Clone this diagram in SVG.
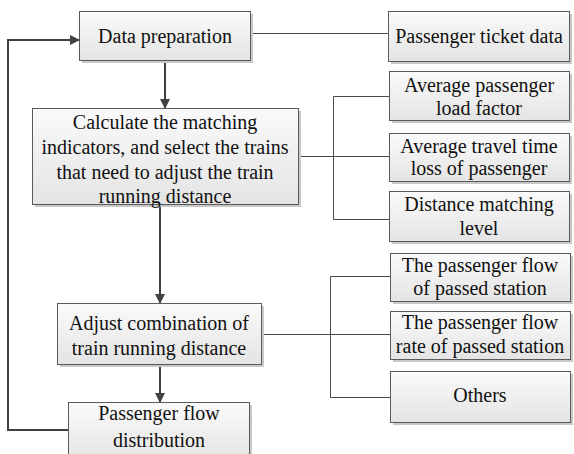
<svg xmlns="http://www.w3.org/2000/svg" width="574" height="454" viewBox="0 0 574 454">
<defs>
<linearGradient id="g" x1="0" y1="0" x2="0" y2="1">
<stop offset="0" stop-color="#fafafa"/>
<stop offset="1" stop-color="#e4e4e4"/>
</linearGradient>
<marker id="ah" markerWidth="10" markerHeight="10" refX="9" refY="5" orient="auto" markerUnits="userSpaceOnUse">
<path d="M0,0 L10,5 L0,10 z" fill="#404040"/>
</marker>
<style>
.box{fill:url(#g);stroke:#5a5a5a;stroke-width:1}
.sh{fill:#c8c8c8}
.t{font-family:"Liberation Serif","Times New Roman",serif;font-size:20px;fill:#111;text-anchor:middle;dominant-baseline:central}
.thin{stroke:#4a4a4a;stroke-width:1;fill:none}
.thick{stroke:#404040;stroke-width:2;fill:none}
</style>
</defs>
<rect width="574" height="454" fill="#fff"/>
<g id="connectors">
<line class="thin" x1="250" y1="33.5" x2="388" y2="33.5"/>
<line class="thick" x1="165" y1="60" x2="165" y2="108" marker-end="url(#ah)"/>
<path class="thin" d="M298,156.5 H389 M333.5,96.5 V219.5 M333.5,96.5 H389 M333.5,219.5 H389"/>
<line class="thick" x1="160" y1="204" x2="160" y2="303" marker-end="url(#ah)"/>
<path class="thin" d="M261,334.5 H390 M330.5,276.5 V397.5 M330.5,276.5 H390 M330.5,397.5 H390"/>
<line class="thick" x1="160" y1="364" x2="160" y2="402" marker-end="url(#ah)"/>
<path class="thick" d="M68,430 H8 V40 H79" marker-end="url(#ah)"/>
</g>
<g id="n1"><rect class="sh" x="82" y="14" width="171" height="49"/><rect class="box" x="79.5" y="11.5" width="171" height="49"/><text class="t" x="165" y="36">Data preparation</text></g>
<g id="n2"><rect class="sh" x="391" y="14" width="181" height="50"/><rect class="box" x="388.5" y="11.5" width="181" height="50"/><text class="t" x="479" y="36">Passenger ticket data</text></g>
<g id="n3"><rect class="sh" x="35" y="111" width="266" height="96"/><rect class="box" x="32.5" y="108.5" width="266" height="96"/>
<text class="t" x="165" y="122">Calculate the matching</text>
<text class="t" x="165" y="147">indicators, and select the trains</text>
<text class="t" x="165" y="172">that need to adjust the train</text>
<text class="t" x="165" y="196">running distance</text></g>
<g id="n4"><rect class="sh" x="392" y="74" width="180" height="49"/><rect class="box" x="389.5" y="71.5" width="180" height="49"/>
<text class="t" x="479" y="85">Average passenger</text><text class="t" x="479" y="108">load factor</text></g>
<g id="n5"><rect class="sh" x="392" y="136" width="180" height="48"/><rect class="box" x="389.5" y="133.5" width="180" height="48"/>
<text class="t" x="479" y="146">Average travel time</text><text class="t" x="479" y="168">loss of passenger</text></g>
<g id="n6"><rect class="sh" x="392" y="194" width="180" height="50"/><rect class="box" x="389.5" y="191.5" width="180" height="50"/>
<text class="t" x="479" y="204">Distance matching</text><text class="t" x="479" y="228">level</text></g>
<g id="n7"><rect class="sh" x="60" y="306" width="204" height="61"/><rect class="box" x="57.5" y="303.5" width="204" height="61"/>
<text class="t" x="159" y="323">Adjust combination of</text><text class="t" x="159" y="348">train running distance</text></g>
<g id="n8"><rect class="sh" x="71" y="405" width="181" height="60"/><rect class="box" x="68.5" y="402.5" width="181" height="60"/>
<text class="t" x="159" y="413">Passenger flow</text><text class="t" x="159" y="440">distribution</text></g>
<g id="n9"><rect class="sh" x="393" y="256" width="180" height="48"/><rect class="box" x="390.5" y="253.5" width="180" height="48"/>
<text class="t" x="480" y="265">The passenger flow</text><text class="t" x="480" y="288">of passed station</text></g>
<g id="n10"><rect class="sh" x="393" y="314" width="180" height="48"/><rect class="box" x="390.5" y="311.5" width="180" height="48"/>
<text class="t" x="480" y="322">The passenger flow</text><text class="t" x="480" y="346">rate of passed station</text></g>
<g id="n11"><rect class="sh" x="393" y="374" width="180" height="51"/><rect class="box" x="390.5" y="371.5" width="180" height="51"/>
<text class="t" x="480" y="395">Others</text></g>
</svg>
